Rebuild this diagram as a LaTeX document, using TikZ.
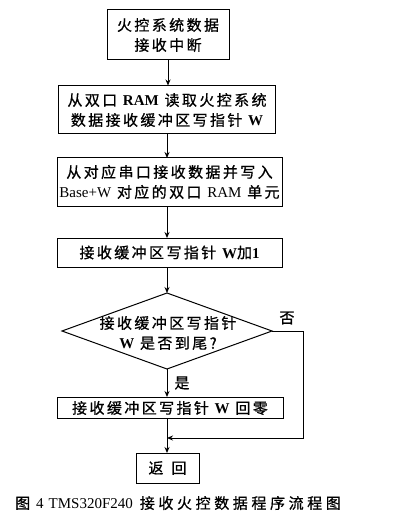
\documentclass[tikz,border=0pt]{standalone}
\usepackage{fontspec}
\setmainfont{Liberation Serif}
\newfontfamily\cjk[LetterSpace=16,FakeBold=0.8]{Noto Sans CJK SC}
\newfontfamily\cjkcap[LetterSpace=24,FakeBold=0.8]{Noto Sans CJK SC}
\newcommand{\lt}[1]{{\rmfamily\bfseries #1}}
\newcommand{\ltr}[1]{{\rmfamily #1}}
\usetikzlibrary{arrows.meta}

\begin{document}
\begin{tikzpicture}[x=1pt,y=-1pt,
  box/.style={draw,line width=1pt,inner sep=0pt,align=center,font=\cjk\fontsize{15}{20}\selectfont},
  lbl/.style={inner sep=0pt,font=\cjk\fontsize{15}{20}\selectfont},
  link/.style={line width=1pt,-{Stealth[length=6pt,width=5pt]}}]
  \useasboundingbox (0,0) rectangle (407,521);
  \node[box,minimum width=122pt,minimum height=50pt] (intr) at (168,35) {火控系统数据\\接收中断};
  \node[box,minimum width=217pt,minimum height=48pt] (readw) at (167,110) {从双口 \lt{RAM} 读取火控系统\\数据接收缓冲区写指针 \lt{W}};
  \node[box,minimum width=225pt,minimum height=48pt] (store) at (169.5,182) {从对应串口接收数据并写入\\\ltr{Base+W} 对应的双口 \ltr{RAM} 单元};
  \node[box,minimum width=225pt,minimum height=29pt] (incw) at (169.5,252.5) {接收缓冲区写指针 \lt{W}加\lt{1}};
  % decision
  \coordinate (dt) at (167,293); \coordinate (dr) at (272,331);
  \coordinate (db) at (167,369); \coordinate (dl) at (62,331);
  \draw[line width=1pt] (dt) -- (dr) -- (db) -- (dl) -- cycle;
  \node[lbl,align=center] (ask) at (168,333) {接收缓冲区写指针\\\lt{W} 是否到尾?};
  \node[box,minimum width=226pt,minimum height=21pt] (zero) at (170,408) {接收缓冲区写指针 \lt{W} 回零};
  \node[box,minimum width=63pt,minimum height=30pt] (ret) at (167.5,468) {返\hspace{8pt}回};
  \coordinate (merge) at (167,438);
  \node[lbl] (no) at (287,318) {否};
  \node[lbl] (yes) at (182,383) {是};
  \draw[link] (intr.south) -- (intr.south |- readw.north);
  \draw[link] (167,134) -- (167,158);
  \draw[link] (167,206) -- (167,238);
  \draw[link] (167,267) -- (dt);
  \draw[link] (db) -- (db |- zero.north);
  \draw[link] (167,418.5) -- (167,453);
  \draw[link] (dr) -- ++(31,0) |- (merge);
  \node[anchor=west,inner sep=0pt,font=\cjkcap\fontsize{15}{20}\selectfont] (cap) at (15,503) {图\hspace{6pt}\ltr{4\hspace{5pt}TMS320F240} 接收火控数据程序流程图};
\end{tikzpicture}
\end{document}
